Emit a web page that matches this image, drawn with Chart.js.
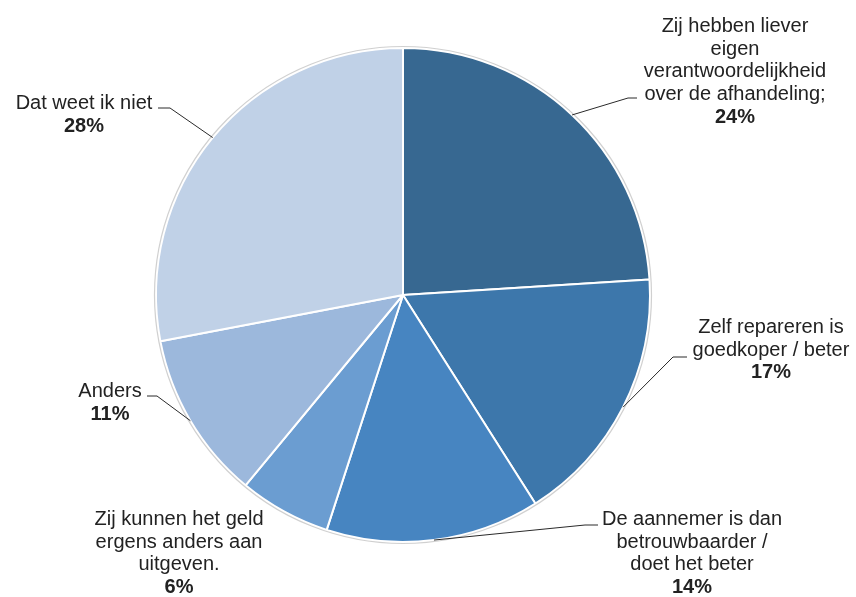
<!DOCTYPE html>
<html>
<head>
<meta charset="utf-8">
<script src="https://cdn.jsdelivr.net/npm/chart.js@4/dist/chart.umd.min.js"></script>
<style>
  html, body { margin: 0; padding: 0; background: #ffffff; }
  #wrap { width: 856px; height: 597px; }
</style>
</head>
<body>
<div id="wrap"><canvas id="c" width="856" height="597"></canvas></div>
<script>
// ---- data ----
const categories = [
  ["Zij hebben liever", "eigen", "verantwoordelijkheid", "over de afhandeling;"],
  ["Zelf repareren is", "goedkoper / beter"],
  ["De aannemer is dan", "betrouwbaarder /", "doet het beter"],
  ["Zij kunnen het geld", "ergens anders aan", "uitgeven."],
  ["Anders"],
  ["Dat weet ik niet"]
];
const values = [24, 17, 14, 6, 11, 28];
const percentLabels = ["24%", "17%", "14%", "6%", "11%", "28%"];

// ---- styling / layout (not data) ----
const sliceColors = ["#376891", "#3d77ab", "#4785c1", "#6b9dd1", "#9cb8dc", "#c0d1e7"];
// text block: center x, first baseline y; leader: elbow point and end of horizontal tick
const labelLayout = [
  { x: 735, y: 32,  leader: { ex: 628, ey: 98,  hx: 637 } },
  { x: 771, y: 333, leader: { ex: 673, ey: 357, hx: 687 } },
  { x: 692, y: 525, leader: { ex: 585, ey: 525, hx: 598 } },
  { x: 179, y: 525, leader: null },
  { x: 110, y: 397, leader: { ex: 157, ey: 396, hx: 147 } },
  { x: 84,  y: 109, leader: { ex: 170, ey: 108, hx: 158 } }
];
const lineHeight = 22.7;
const fontFamily = '"Liberation Sans", Arial, sans-serif';
const fontSize = 20;

const labelPlugin = {
  id: 'pieLabels',
  afterDatasetsDraw(chart) {
    const ctx = chart.ctx;
    const meta = chart.getDatasetMeta(0);
    // soft outer edge
    const a0 = meta.data[0];
    ctx.save();
    ctx.beginPath();
    ctx.arc(a0.x, a0.y, a0.outerRadius + 1.5, 0, Math.PI * 2);
    ctx.strokeStyle = 'rgba(120,120,120,0.35)';
    ctx.lineWidth = 1.2;
    ctx.stroke();
    ctx.restore();

    meta.data.forEach((arc, i) => {
      const lay = labelLayout[i];
      ctx.save();
      if (lay.leader) {
        const mid = (arc.startAngle + arc.endAngle) / 2;
        const px = arc.x + Math.cos(mid) * arc.outerRadius;
        const py = arc.y + Math.sin(mid) * arc.outerRadius;
        ctx.beginPath();
        ctx.moveTo(px, py);
        ctx.lineTo(lay.leader.ex, lay.leader.ey);
        ctx.lineTo(lay.leader.hx, lay.leader.ey);
        ctx.strokeStyle = '#2a2a2a';
        ctx.lineWidth = 1;
        ctx.stroke();
      }
      ctx.fillStyle = '#222222';
      ctx.textAlign = 'center';
      ctx.textBaseline = 'alphabetic';
      const lines = categories[i];
      ctx.font = fontSize + 'px ' + fontFamily;
      lines.forEach((t, k) => {
        ctx.fillText(t, lay.x, lay.y + k * lineHeight);
      });
      ctx.font = 'bold ' + fontSize + 'px ' + fontFamily;
      ctx.fillText(percentLabels[i], lay.x, lay.y + lines.length * lineHeight);
      ctx.restore();
    });
  }
};

new Chart(document.getElementById('c'), {
  type: 'pie',
  data: {
    labels: categories.map(c => c.join(' ')),
    datasets: [{
      data: values,
      backgroundColor: sliceColors,
      borderColor: '#ffffff',
      borderWidth: 2
    }]
  },
  options: {
    responsive: false,
    animation: false,
    layout: { padding: { left: 155, right: 205, top: 46, bottom: 53 } },
    plugins: {
      legend: { display: false },
      tooltip: { enabled: false }
    }
  },
  plugins: [labelPlugin]
});
</script>
</body>
</html>
